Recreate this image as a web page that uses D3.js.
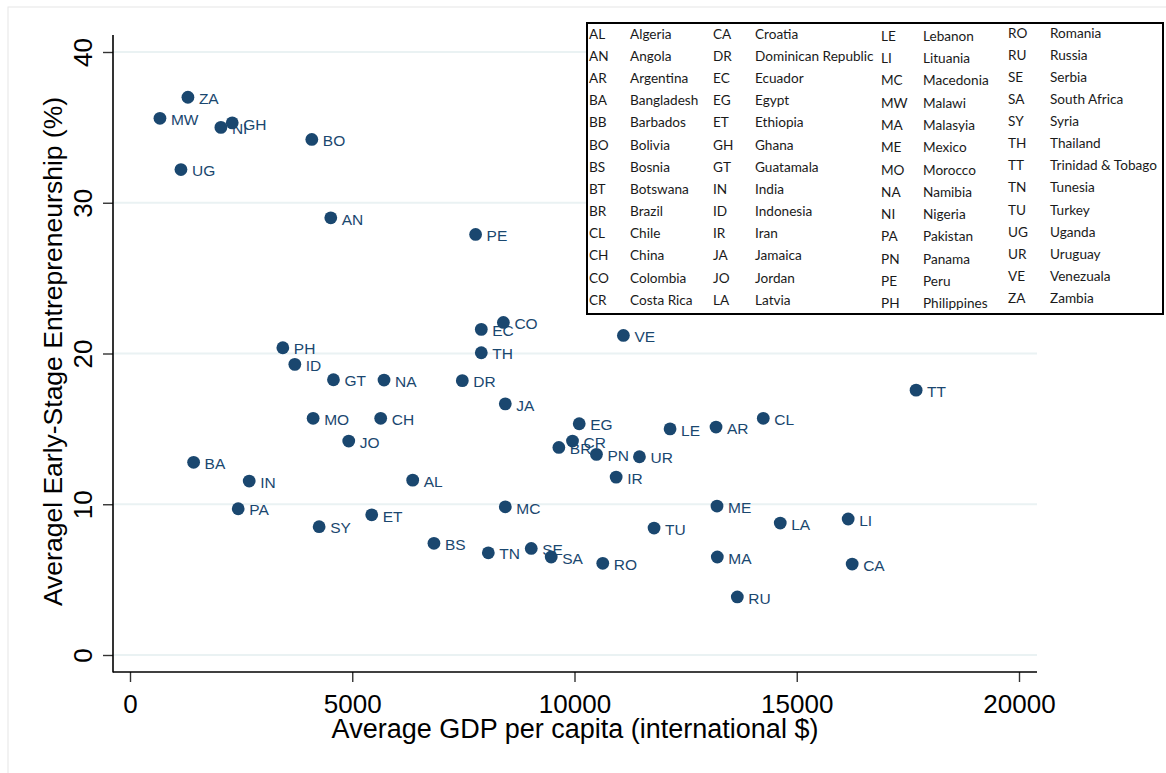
<!DOCTYPE html>
<html>
<head>
<meta charset="utf-8">
<script src="https://cdn.jsdelivr.net/npm/d3@7"></script>
<style>
  html, body { margin: 0; padding: 0; background: #fff; }
  svg { display: block; }
</style>
</head>
<body>
<script>
// Country codes, average GDP per capita (international $) and average early-stage entrepreneurship (%)
const codes = ["ZA","MW","NI","GH","UG","BO","AN","PE","CO","EC","VE","TH","DR","JA","EG","CR","BR","PN","UR","IR","LE","AR","CL","TT","MC","ME","TU","BS","TN","SE","SA","RO","MA","LA","LI","CA","RU","PH","ID","GT","NA","MO","CH","JO","BA","IN","AL","PA","SY","ET"];
const gdp = [1303,674,2045,2300,1146,4090,4517,7775,8400,7903,11100,7903,7476,8443,10106,9955,9648,10494,11461,10937,12150,13184,14247,17685,8443,13206,11790,6838,8061,9027,9476,10636,13213,14629,16157,16247,13663,3438,3708,4577,5715,4120,5640,4921,1431,2682,6360,2434,4255,5438];
const tea = [37.0,35.6,35.0,35.3,32.2,34.2,29.0,27.9,22.06,21.6,21.2,20.05,18.2,16.66,15.34,14.19,13.77,13.31,13.15,11.8,15.0,15.12,15.7,17.57,9.83,9.88,8.42,7.41,6.78,7.07,6.5,6.08,6.5,8.75,9.02,6.03,3.85,20.38,19.28,18.26,18.24,15.7,15.7,14.19,12.78,11.54,11.6,9.7,8.51,9.3];

// Axis ticks
const xTicks = [0, 5000, 10000, 15000, 20000];
const yTicks = [0, 10, 20, 30, 40];

// Key to the country codes, four columns
const legendCodes = [
  ["AL","AN","AR","BA","BB","BO","BS","BT","BR","CL","CH","CO","CR"],
  ["CA","DR","EC","EG","ET","GH","GT","IN","ID","IR","JA","JO","LA"],
  ["LE","LI","MC","MW","MA","ME","MO","NA","NI","PA","PN","PE","PH"],
  ["RO","RU","SE","SA","SY","TH","TT","TN","TU","UG","UR","VE","ZA"]
];
const legendNames = [
  ["Algeria","Angola","Argentina","Bangladesh","Barbados","Bolivia","Bosnia","Botswana","Brazil","Chile","China","Colombia","Costa Rica"],
  ["Croatia","Dominican Republic","Ecuador","Egypt","Ethiopia","Ghana","Guatamala","India","Indonesia","Iran","Jamaica","Jordan","Latvia"],
  ["Lebanon","Lituania","Macedonia","Malawi","Malasyia","Mexico","Morocco","Namibia","Nigeria","Pakistan","Panama","Peru","Philippines"],
  ["Romania","Russia","Serbia","South Africa","Syria","Thailand","Trinidad & Tobago","Tunesia","Turkey","Uganda","Uruguay","Venezuala","Zambia"]
];

const W = 1166, H = 773;
const navy = "#1a476f";
const axisFont = "Liberation Sans, Arial, Helvetica, sans-serif";

const svg = d3.select("body").append("svg").attr("width", W).attr("height", H);
svg.append("rect").attr("width", W).attr("height", H).attr("fill", "#fff");

// outer graph frame
svg.append("rect").attr("x", 8).attr("y", 7).attr("width", W).attr("height", H)
  .attr("fill", "none").attr("stroke", "#e6e6e6").attr("stroke-width", 1);

const plotL = 113, plotR = 1037, plotT = 35, plotB = 672;

const x = d3.scaleLinear().domain([0, 20000]).range([130, 1019]);
const y = d3.scaleLinear().domain([0, 40]).range([655, 52]);

// gridlines
svg.append("g").selectAll("line").data(yTicks).join("line")
  .attr("x1", plotL).attr("x2", plotR)
  .attr("y1", d => y(d)).attr("y2", d => y(d))
  .attr("stroke", "#eaf2f3").attr("stroke-width", 2);

// x axis
const gx = svg.append("g").attr("transform", `translate(0,${plotB})`)
  .call(d3.axisBottom(x).tickValues(xTicks).tickSize(10).tickFormat(d3.format("d")));
gx.select(".domain").remove();
gx.selectAll(".tick line").attr("stroke", "#333").attr("stroke-width", 1.4);
gx.selectAll(".tick text").attr("y", 41).attr("dy", 0)
  .attr("font-family", axisFont).attr("font-size", 26).attr("fill", "#000");

// y axis
const gy = svg.append("g").attr("transform", `translate(${plotL},0)`)
  .call(d3.axisLeft(y).tickValues(yTicks).tickSize(10));
gy.select(".domain").remove();
gy.selectAll(".tick line").attr("stroke", "#333").attr("stroke-width", 1.4);
gy.selectAll(".tick text")
  .attr("x", 0).attr("y", 0).attr("dy", 0)
  .attr("transform", "translate(-21,0) rotate(-90)")
  .attr("text-anchor", "middle")
  .attr("font-family", axisFont).attr("font-size", 26).attr("fill", "#000");

// axis lines
svg.append("line").attr("x1", plotL).attr("x2", plotL).attr("y1", plotT).attr("y2", plotB + 0.5)
  .attr("stroke", "#000").attr("stroke-width", 1.6);
svg.append("line").attr("x1", plotL).attr("x2", plotR).attr("y1", plotB).attr("y2", plotB)
  .attr("stroke", "#000").attr("stroke-width", 1.6);

// axis titles
svg.append("text").attr("x", (plotL + plotR) / 2).attr("y", 738)
  .attr("text-anchor", "middle").attr("font-family", axisFont).attr("font-size", 27)
  .text("Average GDP per capita (international $)");
svg.append("text").attr("transform", `translate(62,${(plotT + plotB) / 2 - 2}) rotate(-90)`)
  .attr("text-anchor", "middle").attr("font-family", axisFont).attr("font-size", 26.5)
  .text("Averagel Early-Stage Entrepreneurship (%)");

// points and labels
const pts = codes.map((c, i) => ({ code: c, gdp: gdp[i], tea: tea[i] }));
const gp = svg.append("g");
gp.selectAll("circle").data(pts).join("circle")
  .attr("cx", d => x(d.gdp)).attr("cy", d => y(d.tea)).attr("r", 6.4)
  .attr("fill", navy);
gp.selectAll("text").data(pts).join("text")
  .attr("x", d => x(d.gdp) + 11).attr("y", d => y(d.tea) + 6.7)
  .attr("font-family", axisFont).attr("font-size", 15.5).attr("fill", navy)
  .text(d => d.code);

// legend box
const lg = svg.append("g");
lg.append("rect").attr("x", 587).attr("y", 23).attr("width", 576).attr("height", 291)
  .attr("fill", "#fff").attr("stroke", "#000").attr("stroke-width", 2);
const colCodeX = [589, 713, 881, 1008];
const colNameX = [630, 755, 923, 1050];
const colTop = [34, 34, 36, 33];
const colStep = [22.17, 22.17, 22.3, 22.1];
legendCodes.forEach((col, ci) => {
  col.forEach((code, ri) => {
    const cy = colTop[ci] + ri * colStep[ci];
    lg.append("text").attr("x", colCodeX[ci]).attr("y", cy).attr("dy", "0.35em")
      .attr("font-family", "Lato, 'Open Sans', sans-serif").attr("font-size", 13.6)
      .attr("fill", "#1a1a1a").text(code);
    lg.append("text").attr("x", colNameX[ci]).attr("y", cy).attr("dy", "0.35em")
      .attr("font-family", "Lato, 'Open Sans', sans-serif").attr("font-size", 13.6)
      .attr("fill", "#1a1a1a").text(legendNames[ci][ri]);
  });
});
</script>
</body>
</html>
